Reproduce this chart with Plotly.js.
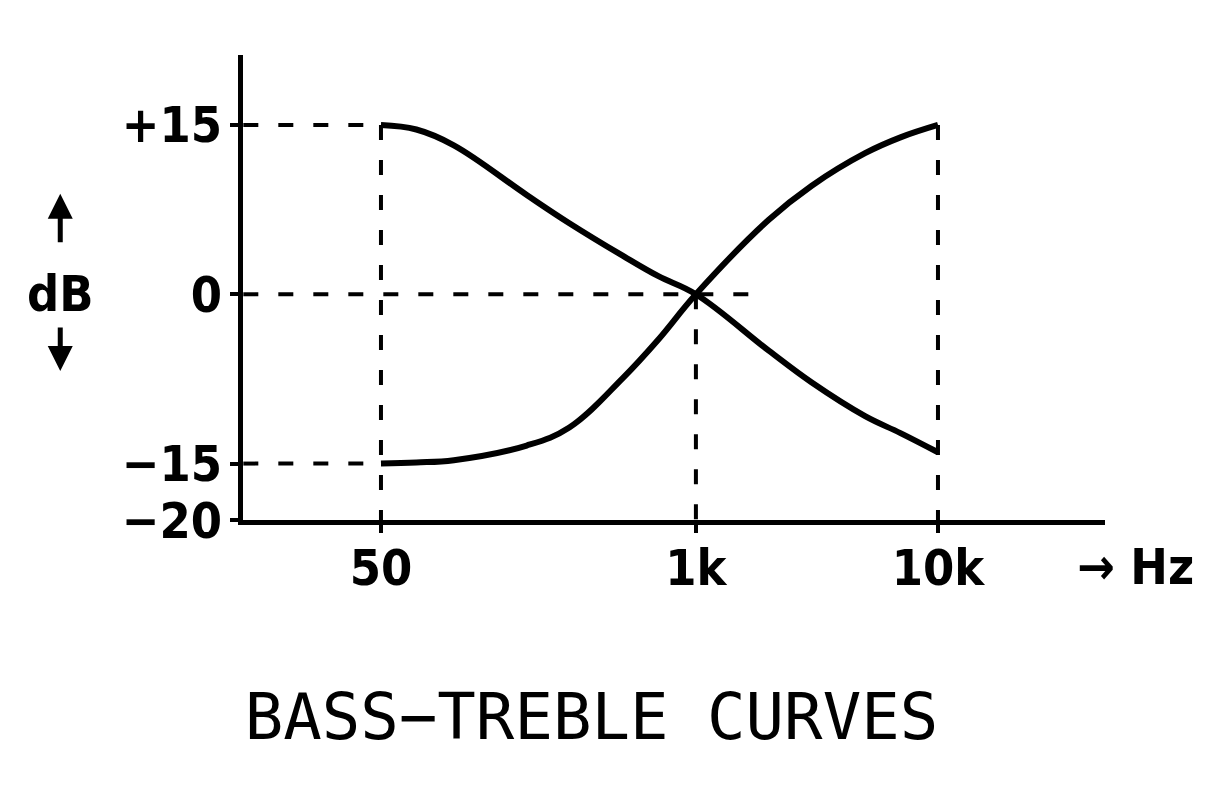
<!DOCTYPE html>
<html>
<head>
<meta charset="utf-8">
<script src="https://cdn.plot.ly/plotly-3.0.1.min.js"></script>
<style>
  html, body { margin: 0; padding: 0; background: #fff; }
  #chart { width: 1217px; height: 794px; }
</style>
</head>
<body>
<div id="chart"></div>
<script>
// Frequencies (Hz) at which curves are read
const freq = [50, 70, 100, 200, 300, 500, 700, 1000, 2000, 3000, 5000, 7000, 10000];
// Bass boost curve (dB)
const bass = [15, 14.6, 13.2, 8.8, 6.3, 3.4, 1.6, 0, -5.0, -7.8, -10.8, -12.3, -14.0];
// Treble boost curve (dB)
const treble = [-15, -14.9, -14.7, -13.4, -11.8, -7.4, -4.0, 0, 6.6, 9.6, 12.5, 13.9, 15];

// Axis ticks
const xTickVals = [50, 1000, 10000];
const xTickText = ['50', '1k', '10k'];
const yTickVals = [15, 0, -15, -20];
const yTickText = ['+15', '0', '\u221215', '\u221220'];

// Dashed guide lines (data coordinates)
const axisLeftHz = 13.5;
const guideH15X = [axisLeftHz, 50];      const guideH15Y = [15, 15];
const guideH0X = [axisLeftHz, 1700];     const guideH0Y = [0, 0];
const guideHm15X = [axisLeftHz, 50];     const guideHm15Y = [-15, -15];
const guideV50X = [50, 50];              const guideV50Y = [15, -20];
const guideV1kX = [1000, 1000];          const guideV1kY = [0, -20];
const guideV10kX = [10000, 10000];       const guideV10kY = [15, -20];

const dashStyle = {color: '#000', width: 4, dash: '15px,20px'};
function guide(x, y) {
  return {x: x, y: y, mode: 'lines', line: dashStyle, hoverinfo: 'skip', showlegend: false, cliponaxis: false};
}

const traces = [
  guide(guideH15X, guideH15Y),
  guide(guideH0X, guideH0Y),
  guide(guideHm15X, guideHm15Y),
  guide(guideV50X, guideV50Y),
  guide(guideV1kX, guideV1kY),
  guide(guideV10kX, guideV10kY),
  {x: freq, y: bass, mode: 'lines', line: {color: '#000', width: 6, shape: 'spline', smoothing: 1.1}, showlegend: false},
  {x: freq, y: treble, mode: 'lines', line: {color: '#000', width: 6, shape: 'spline', smoothing: 1.1}, showlegend: false}
];

const tickFont = {family: '"DejaVu Sans Condensed", "Liberation Sans Narrow", sans-serif', size: 50, color: '#000', weight: 'bold'};

const layout = {
  width: 1217, height: 794,
  paper_bgcolor: '#fff', plot_bgcolor: '#fff',
  margin: {l: 243, r: 112, t: 55, b: 274},
  showlegend: false,
  title: {
    text: 'BASS\u2212TREBLE CURVES',
    font: {family: '"DejaVu Sans Mono", monospace', size: 64, color: '#000'},
    x: 0.486, xref: 'container', xanchor: 'center',
    y: 0.098, yref: 'container', yanchor: 'middle'
  },
  xaxis: {
    type: 'log',
    range: [1.129, 4.69],
    showline: true, linecolor: '#000', linewidth: 5,
    showgrid: false, zeroline: false,
    ticks: 'outside', ticklen: 8, tickwidth: 4, tickcolor: '#000',
    tickvals: xTickVals, ticktext: xTickText,
    tickfont: tickFont,
    ticklabelstandoff: -8
  },
  yaxis: {
    range: [-20, 21.2],
    showline: true, linecolor: '#000', linewidth: 5,
    showgrid: false, zeroline: false,
    ticks: 'outside', ticklen: 8, tickwidth: 4, tickcolor: '#000',
    tickvals: yTickVals, ticktext: yTickText,
    tickfont: tickFont,
    ticklabelstandoff: -2
  },
  annotations: [
    {xref: 'paper', yref: 'y', x: -0.212, y: 0, text: 'dB', showarrow: false,
     font: tickFont, xanchor: 'center', yanchor: 'middle'},
    {xref: 'paper', yref: 'y', x: -0.212, y: 8.9, text: '', showarrow: true,
     ax: 0, ay: 50, arrowhead: 2, arrowsize: 1, arrowwidth: 5, arrowcolor: '#000'},
    {xref: 'paper', yref: 'y', x: -0.212, y: -6.8, text: '', showarrow: true,
     ax: 0, ay: -45, arrowhead: 2, arrowsize: 1, arrowwidth: 5, arrowcolor: '#000'},
    {xref: 'paper', yref: 'paper', x: 1.035, y: -0.1, text: '\u2192 Hz', showarrow: false,
     font: tickFont, xanchor: 'center', yanchor: 'middle'}
  ]
};

Plotly.newPlot('chart', traces, layout, {displayModeBar: false, staticPlot: true});
</script>
</body>
</html>
